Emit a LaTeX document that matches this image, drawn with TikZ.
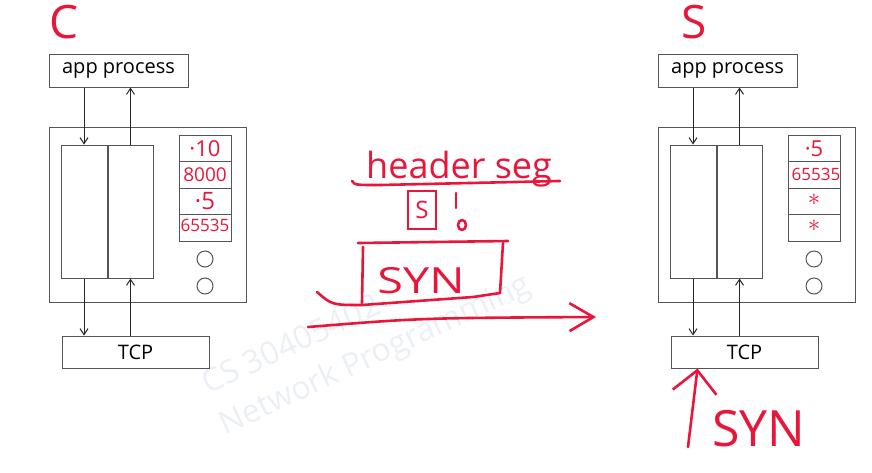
\documentclass[tikz,border=0pt]{standalone}
\usepackage{fontspec}
\setmainfont{Open Sans}
\usetikzlibrary{positioning,arrows.meta}

\definecolor{ink}{RGB}{232,22,58}
\definecolor{frame}{RGB}{85,85,85}
\definecolor{mark}{RGB}{236,239,245}

\tikzset{
    box/.style={draw=frame, line width=1pt, inner sep=0pt, fill=white},
    cell/.style={box, minimum width=52pt, minimum height=26.5pt},
    flow/.style={-{Straight Barb[length=6pt,width=8pt]}, line width=1pt, draw=black!85},
    pen/.style={draw=ink, line width=2.6pt, line cap=round, line join=round},
    scrawl/.style={text=ink, inner sep=0pt}
}

\begin{document}
\begin{tikzpicture}[x=1pt, y=-1pt]
        \useasboundingbox (0,0) rectangle (872,472);

        % watermark
        \node[text=mark, font=\fontsize{32}{32}\selectfont, rotate=25, anchor=base west] (wm1) at (205,396) {CS 30405402};
        \node[text=mark, font=\fontsize{32}{32}\selectfont, rotate=25, anchor=base west] (wm2) at (222,437) {Network Programming};

        % the two hosts
        \foreach \h/\dx in {c/0, s/609} {
            \node[box, font=\fontsize{20}{24}\selectfont, minimum width=139pt, minimum height=33pt] (\h-app) at (118.5+\dx,70.5) {app process};
            \node[box, minimum width=197pt, minimum height=175pt] (\h-host) at (147.5+\dx,214.5) {};
            \node[box, minimum width=46pt, minimum height=133pt] (\h-send) at (84+\dx,211.5) {};
            \node[box, minimum width=45pt, minimum height=133pt, right=0pt of \h-send] (\h-recv) {};
            \foreach \r in {1,...,4}
                \node[cell] (\h-cell\r) at (205+\dx,121.75+26.5*\r) {};
            \node[box, circle, minimum size=16pt] (\h-dot1) at (205+\dx,259) {};
            \node[box, circle, minimum size=16pt] (\h-dot2) at (205+\dx,286) {};
            \node[box, font=\fontsize{20}{24}\selectfont, minimum width=147pt, minimum height=32pt] (\h-tcp) at (135.5+\dx,352) {TCP};

            \draw[flow] (\h-app.south -| \h-send.north) -- (\h-send.north);
            \draw[flow] (\h-recv.north) -- (\h-app.south -| \h-recv.north);
            \draw[flow] (\h-send.south) -- (\h-send.south |- \h-tcp.north);
            \draw[flow] (\h-recv.south |- \h-tcp.north) -- (\h-recv.south);
        }

        % handwritten notes
        \node[scrawl, font=\fontsize{46}{46}\selectfont] (c-name) at (64,22) {C};
        \node[scrawl, font=\fontsize{46}{46}\selectfont] (s-name) at (694,22) {S};

        \node[scrawl, font=\fontsize{22}{22}\selectfont] at (c-cell1) {·10};
        \node[scrawl, font=\fontsize{19}{19}\selectfont] at (c-cell2) {8000};
        \node[scrawl, font=\fontsize{24}{24}\selectfont] at (c-cell3) {·5};
        \node[scrawl, font=\fontsize{17}{17}\selectfont] at ([yshift=2pt]c-cell4) {65535};
        \node[scrawl, font=\fontsize{22}{22}\selectfont] at (s-cell1) {·5};
        \node[scrawl, font=\fontsize{17}{17}\selectfont] at ([xshift=2pt]s-cell2) {65535};
        \node[scrawl, font=\fontsize{32}{32}\selectfont] at ([yshift=2pt]s-cell3) {$\ast$};
        \node[scrawl, font=\fontsize{32}{32}\selectfont] at ([yshift=2pt]s-cell4) {$\ast$};

        \node[scrawl, font=\fontsize{36}{36}\selectfont, anchor=base west] (hdr) at (366,178) {header seg};
        \draw[pen] (352,181) .. controls (355,185) .. (380,185) -- (560,181);
        \node[draw=ink, line width=2.4pt, minimum width=28pt, minimum height=38pt, scrawl, font=\fontsize{24}{24}\selectfont] (sflag) at (422,210) {S};
        \draw[pen] (456,193) -- (456,208);
        \draw[pen] (462,225) ellipse (4 and 5);

        \node[scrawl, font=\fontsize{36}{36}\selectfont, xscale=1.3] (syn) at (421,281) {SYN};
        \draw[pen] (358,243) -- (508,241);
        \draw[pen] (503,243) -- (500,293);
        \draw[pen] (363,247) -- (362,303);
        \draw[pen] (317,292) .. controls (332,305) .. (362,305) -- (473,297) -- (500,293);
        \draw[pen, -{Straight Barb[length=24pt, width=28pt]}] (308,327) .. controls (420,318) .. (596,317);

        \coordinate (s-in) at (688,447);
        \draw[pen, -{Straight Barb[length=22pt, width=44pt]}] (s-in) -- ([xshift=27pt]s-tcp.south west);
        \node[scrawl, font=\fontsize{50}{50}\selectfont, anchor=base west] (syn2) at (712,446) {SYN};
    \end{tikzpicture}
\end{document}
